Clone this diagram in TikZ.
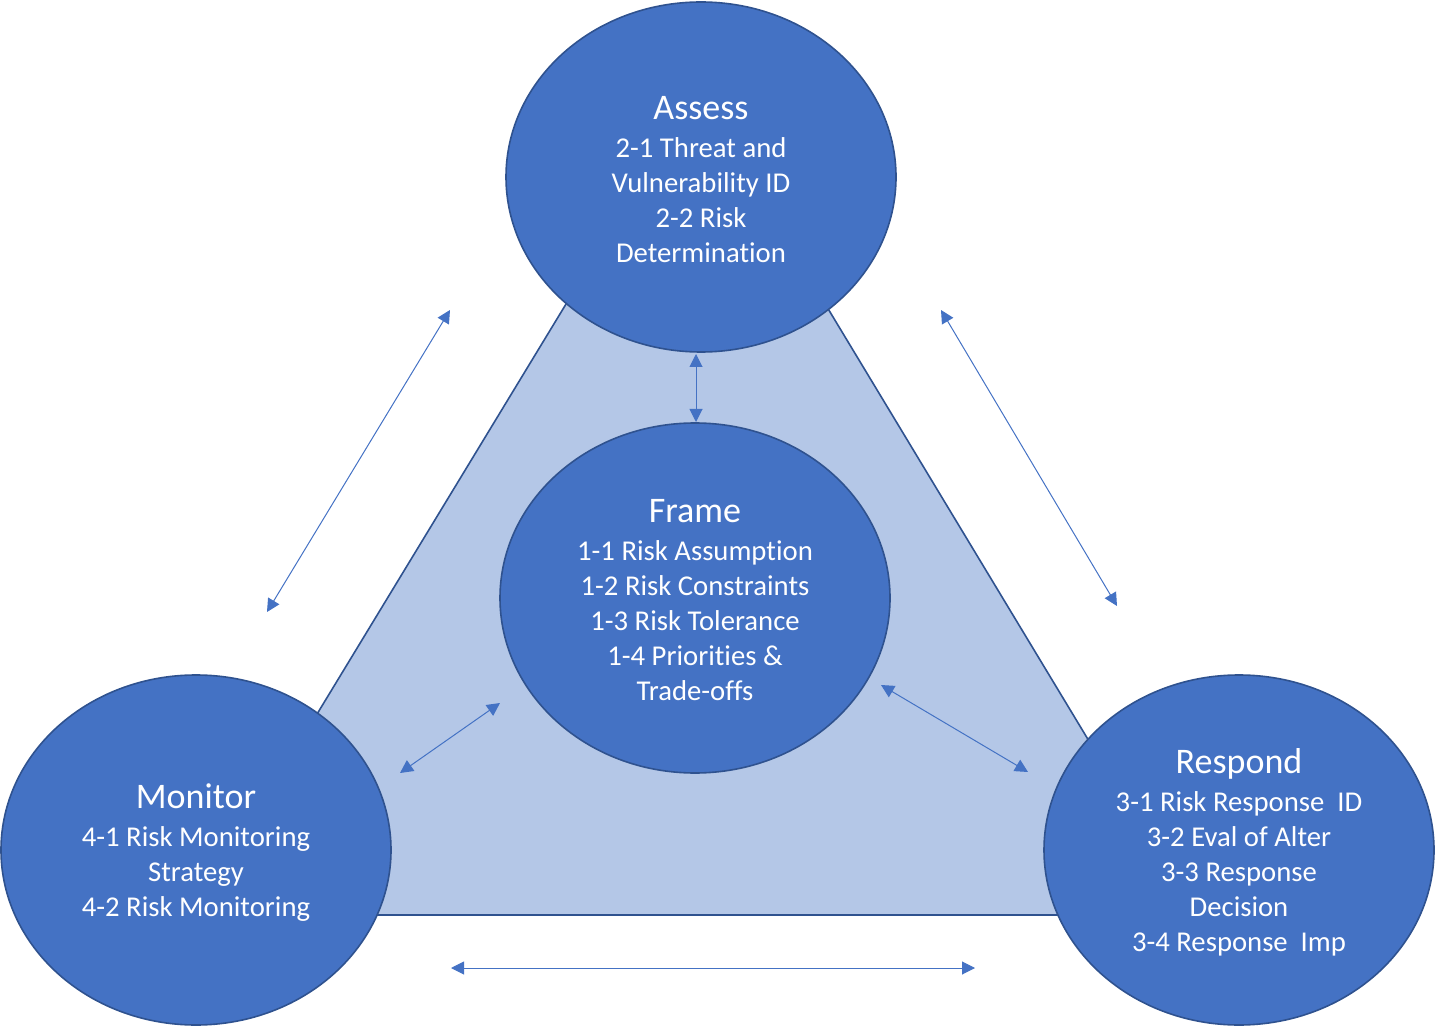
\documentclass[tikz,border=0pt]{standalone}
\usepackage{fontspec}
\setmainfont[Ligatures={NoCommon}]{Carlito}
\usetikzlibrary{shapes.geometric,arrows.meta}
\definecolor{cfill}{HTML}{4472C4}
\definecolor{cborder}{HTML}{2F528F}
\definecolor{tfill}{HTML}{B4C7E7}
\tikzset{
  bubble/.style={ellipse, draw=cborder, line width=0.8pt, fill=cfill,
    minimum width=195pt, minimum height=175pt, inner sep=0pt},
  btext/.style={text=white, align=center, inner sep=0pt,
    font=\fontsize{14.35}{17.5}\selectfont},
  link/.style={draw=cfill, line width=0.5pt, {Triangle[length=6.5pt,width=6.5pt]}-{Triangle[length=6.5pt,width=6.5pt]}},
}
\newcommand{\ttl}[1]{{\fontsize{18}{18}\selectfont #1}\\[1.5pt]}
\begin{document}
\begin{tikzpicture}[x=0.5pt,y=-0.5pt]
\useasboundingbox (0,0) rectangle (1435,1026);
\coordinate (apex) at (696,90);
\coordinate (bl) at (195,915);
\coordinate (br) at (1194,915);
\draw[draw=cborder, line width=0.8pt, fill=tfill] (apex) -- (bl) -- (br) -- cycle;

\node[bubble] (assess) at (701,177) {};
\node[bubble] (frame) at (695,598) {};
\node[bubble] (monitor) at (196,850) {};
\node[bubble] (respond) at (1239,850) {};

\node[btext] (assesst) at ([yshift=-1.25pt]assess.center) {\ttl{Assess}2-1 Threat and\\Vulnerability ID\\2-2 Risk\\Determination};
\node[btext] (framet) at ([yshift=-1.25pt]frame.center) {\ttl{Frame}1-1 Risk Assumption\\1-2 Risk Constraints\\1-3 Risk Tolerance\\1-4 Priorities \&\\Trade-offs};
\node[btext] (monitort) at ([yshift=-1.25pt]monitor.center) {\ttl{Monitor}4-1 Risk Monitoring\\Strategy\\4-2 Risk Monitoring};
\node[btext] (respondt) at ([yshift=-1.25pt]respond.center) {\ttl{Respond}3-1 Risk Response\ \ ID\\3-2 Eval of Alter\\3-3 Response\\Decision\\3-4 Response\ \ Imp};

\coordinate (a1) at (450,310);  \coordinate (a2) at (267,612);
\coordinate (b1) at (941,310);  \coordinate (b2) at (1117,606);
\coordinate (c1) at (696,354);  \coordinate (c2) at (696,422);
\coordinate (d1) at (500,703);  \coordinate (d2) at (400,773);
\coordinate (e1) at (881,685);  \coordinate (e2) at (1028,772);
\coordinate (f1) at (451,968);  \coordinate (f2) at (975,968);

\draw[link] (a1) -- (a2);
\draw[link] (b1) -- (b2);
\draw[link] (c1) -- (c2);
\draw[link] (d1) -- (d2);
\draw[link] (e1) -- (e2);
\draw[link] (f1) -- (f2);
\end{tikzpicture}
\end{document}
